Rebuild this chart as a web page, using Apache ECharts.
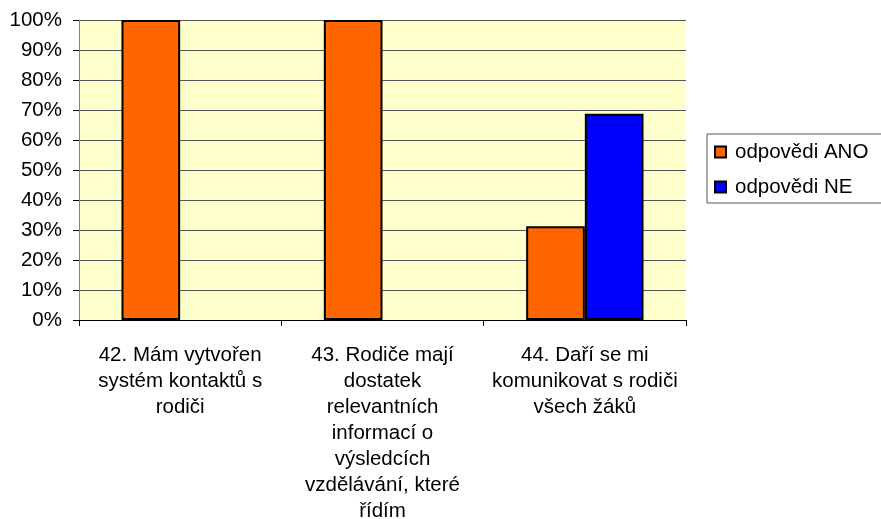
<!DOCTYPE html>
<html>
<head>
<meta charset="utf-8">
<script src="https://cdn.jsdelivr.net/npm/echarts@6/dist/echarts.min.js"></script>
<style>
  html, body { margin: 0; padding: 0; background: #fff; }
  #chart { width: 881px; height: 519px; }
</style>
</head>
<body>
<div id="chart"></div>
<script>
const categories = [
  '42. Mám vytvořen\nsystém kontaktů s\nrodiči',
  '43. Rodiče mají\ndostatek\nrelevantních\ninformací o\nvýsledcích\nvzdělávání, které\nřídím',
  '44. Daří se mi\nkomunikovat s rodiči\nvšech žáků'
]
const ano = [100, 100, 31.25]
const ne = [0, 0, 68.75]

const chart = echarts.init(document.getElementById('chart'))
const font = 'Liberation Sans, Arial, sans-serif'

// zero-height bars should not leave a border line on the axis
const withBorder = v => v === 0 ? { value: v, itemStyle: { borderWidth: 0 } } : v

const option = {
  animation: false,
  textStyle: { fontFamily: font },
  grid: {
    left: 79, right: 195, top: 20, bottom: 199,
    outerBoundsMode: 'none',
    containLabel: false,
    show: true,
    backgroundColor: '#ffffcc',
    borderWidth: 0
  },
  legend: {
    orient: 'vertical',
    left: 707,
    top: 134,
    padding: [7, 20, 5, 7],
    itemGap: 13,
    itemWidth: 11,
    itemHeight: 11,
    icon: 'rect',
    backgroundColor: '#fff',
    borderColor: '#555',
    borderWidth: 1,
    textStyle: { fontSize: 20.5, lineHeight: 22, color: '#000', fontFamily: font, padding: [0, 0, 0, 4] },
    data: ['odpovědi ANO', 'odpovědi NE']
  },
  xAxis: {
    type: 'category',
    data: categories,
    axisLine: { lineStyle: { color: '#000', width: 1 } },
    axisTick: { show: true, length: 6, lineStyle: { color: '#000' } },
    axisLabel: {
      color: '#000', fontSize: 20.5, fontFamily: font, lineHeight: 26,
      margin: 22, interval: 0, align: 'center'
    }
  },
  yAxis: {
    type: 'value',
    min: 0, max: 100, interval: 10,
    axisLine: { show: true, lineStyle: { color: '#8a8a40' } },
    axisTick: { show: true, length: 6, lineStyle: { color: '#000' } },
    splitLine: { lineStyle: { color: '#555', width: 1 } },
    axisLabel: {
      color: '#000', fontSize: 20.5, fontFamily: font, margin: 17,
      formatter: '{value}%'
    }
  },
  series: [
    {
      name: 'odpovědi ANO',
      type: 'bar',
      data: ano.map(withBorder),
      barGap: '0%',
      barCategoryGap: '42%',
      itemStyle: { color: '#ff6600', borderColor: '#000', borderWidth: 2 }
    },
    {
      name: 'odpovědi NE',
      type: 'bar',
      data: ne.map(withBorder),
      itemStyle: { color: '#0000ff', borderColor: '#000', borderWidth: 2 }
    }
  ]
}

chart.setOption(option)
</script>
</body>
</html>
